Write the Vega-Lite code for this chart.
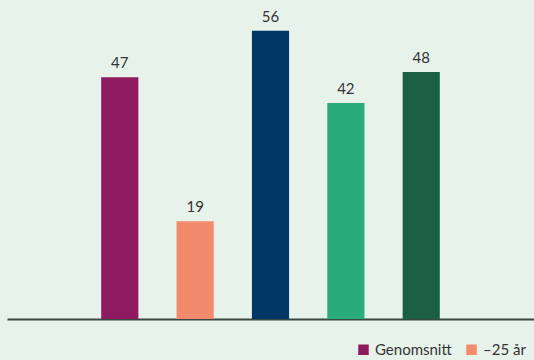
{
  "$schema": "https://vega.github.io/schema/vega-lite/v6.json",
  "width": 527,
  "height": 319,
  "autosize": {"type": "none"},
  "padding": {"left": 7, "top": 0, "right": 0, "bottom": 41},
  "background": "#e7f2ea",
  "config": {"view": {"stroke": null}, "font": "Lato"},
  "data": {"values": [
    {"slot": "s1", "grupp": "Genomsnitt", "value": 47},
    {"slot": "s2", "grupp": "–25 år", "value": 19},
    {"slot": "s3", "grupp": "Grupp 3", "value": 56},
    {"slot": "s4", "grupp": "Grupp 4", "value": 42},
    {"slot": "s5", "grupp": "Grupp 5", "value": 48}
  ]},
  "encoding": {
    "x": {
      "field": "slot", "type": "nominal",
      "scale": {"domain": ["s0","s1","s2","s3","s4","s5","s6"], "paddingInner": 0.507, "paddingOuter": 0.25},
      "axis": {"title": null, "labels": false, "ticks": false, "domainColor": "#3b4944", "domainWidth": 2}
    },
    "y": {
      "field": "value", "type": "quantitative",
      "scale": {"domain": [0, 62], "nice": false},
      "axis": null
    }
  },
  "layer": [
    {
      "mark": {"type": "bar"},
      "encoding": {
        "color": {
          "field": "grupp", "type": "nominal",
          "scale": {"domain": ["Genomsnitt","–25 år","Grupp 3","Grupp 4","Grupp 5"], "range": ["#8e1a5f","#f28b6b","#003764","#2aab7b","#1c6044"]},
          "legend": {
            "values": ["Genomsnitt","–25 år"],
            "title": null,
            "orient": "none",
            "direction": "horizontal",
            "legendX": 349,
            "legendY": 342,
            "symbolType": "square",
            "symbolSize": 110,
            "symbolStrokeWidth": 0,
            "labelFontSize": 15,
            "labelColor": "#333333",
            "labelFont": "Lato",
            "columnPadding": 12,
            "symbolOffset": 0
          }
        }
      }
    },
    {
      "mark": {"type": "text", "baseline": "bottom", "dy": -6, "fontSize": 15, "color": "#333333", "font": "Lato"},
      "encoding": {"text": {"field": "value", "type": "quantitative"}}
    }
  ]
}
